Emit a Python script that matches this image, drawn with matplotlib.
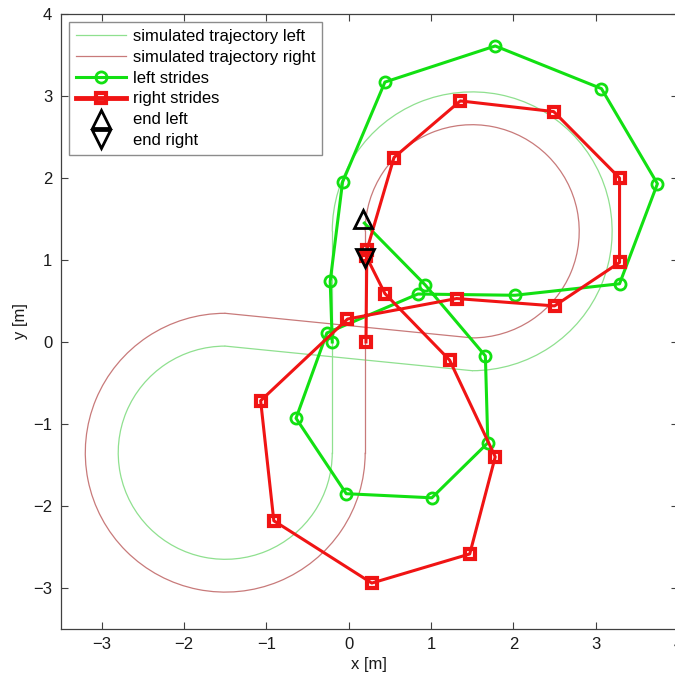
import matplotlib
matplotlib.use("Agg")
import matplotlib.pyplot as plt
from matplotlib.patches import Arc
from matplotlib.lines import Line2D

plt.rcParams['font.family'] = ['Liberation Sans', 'DejaVu Sans']

# ---- data ----
# simulated trajectory geometry (loop centres, radii) for left / right foot
upper_center = (1.5, 1.35)
lower_center = (-1.5, -1.35)
left_upper_radius = 1.7
left_lower_radius = 1.3
right_upper_radius = 1.3
right_lower_radius = 1.7
left_straight_x = -0.2
right_straight_x = 0.2
left_cross_x = [1.5, -1.5]
left_cross_y = [-0.35, -0.05]
right_cross_x = [1.5, -1.5]
right_cross_y = [0.05, 0.35]

# measured strides
left_x = [-0.20, -0.225, -0.075, 0.44, 1.78, 3.07, 3.75, 3.29, 2.02, 0.84,
          -0.265, -0.64, -0.03, 1.01, 1.69, 1.66, 0.93, 0.19]
left_y = [0.00, 0.74, 1.95, 3.17, 3.61, 3.09, 1.93, 0.71, 0.57, 0.585,
          0.11, -0.93, -1.85, -1.90, -1.23, -0.17, 0.695, 1.45]
right_x = [0.21, 0.22, 0.55, 1.355, 2.49, 3.29, 3.29, 2.50, 1.31, -0.015,
           -1.07, -0.91, 0.28, 1.47, 1.78, 1.225, 0.44, 0.21]
right_y = [0.00, 1.12, 2.25, 2.94, 2.81, 2.00, 0.97, 0.44, 0.53, 0.28,
           -0.716, -2.18, -2.94, -2.585, -1.40, -0.22, 0.59, 1.05]
end_left = (0.17, 1.50)
end_right = (0.20, 1.03)

x_ticks = [-3, -2, -1, 0, 1, 2, 3, 4]
y_ticks = [-3, -2, -1, 0, 1, 2, 3, 4]
x_lim = (-3.5, 4)
y_lim = (-3.5, 4)

legend_labels = ['simulated trajectory left', 'simulated trajectory right',
                 'left strides', 'right strides', 'end left', 'end right']

# ---- styling ----
c_sim_left = '#8fe08f'
c_sim_right = '#c87a7a'
c_left = '#12e012'
c_right = '#f01414'
lw_sim = 0.9

fig = plt.figure(figsize=(6.75, 6.76), dpi=100)
ax = fig.add_axes([60.6 / 675, 47 / 676, 617.4 / 675, 615 / 676])

# simulated trajectory left
ax.plot([left_straight_x, left_straight_x], [lower_center[1], upper_center[1]],
        color=c_sim_left, lw=lw_sim)
ax.add_patch(Arc(upper_center, 2 * left_upper_radius, 2 * left_upper_radius,
                 theta1=-90, theta2=180, color=c_sim_left, lw=lw_sim))
ax.plot(left_cross_x, left_cross_y, color=c_sim_left, lw=lw_sim)
ax.add_patch(Arc(lower_center, 2 * left_lower_radius, 2 * left_lower_radius,
                 theta1=90, theta2=360, color=c_sim_left, lw=lw_sim))

# simulated trajectory right
ax.plot([right_straight_x, right_straight_x], [lower_center[1], upper_center[1]],
        color=c_sim_right, lw=lw_sim)
ax.add_patch(Arc(upper_center, 2 * right_upper_radius, 2 * right_upper_radius,
                 theta1=-90, theta2=180, color=c_sim_right, lw=lw_sim))
ax.plot(right_cross_x, right_cross_y, color=c_sim_right, lw=lw_sim)
ax.add_patch(Arc(lower_center, 2 * right_lower_radius, 2 * right_lower_radius,
                 theta1=90, theta2=360, color=c_sim_right, lw=lw_sim))

# strides
ax.plot(left_x, left_y, color=c_left, lw=2.2, marker='o', ms=8, mew=2,
        mfc='none', mec=c_left, markevery=list(range(len(left_x) - 1)))
ax.plot(right_x, right_y, color=c_right, lw=2.2, marker='s', ms=6.5, mew=3,
        mfc='none', mec=c_right)
ax.plot([end_left[0]], [end_left[1]], ls='none', marker='^', ms=13, mew=2,
        mfc='none', mec='black')
ax.plot([end_right[0]], [end_right[1]], ls='none', marker='v', ms=13, mew=2,
        mfc='none', mec='black')

ax.set_xlim(*x_lim)
ax.set_ylim(*y_lim)
ax.set_xticks(x_ticks)
ax.set_yticks(y_ticks)
ax.tick_params(direction='in', top=True, right=True, length=5, width=0.8,
               color='#404040', labelsize=12, labelcolor='#1a1a1a', pad=6)
for s in ax.spines.values():
    s.set_color('#404040')
    s.set_linewidth(0.9)
ax.set_xlabel('x [m]', fontsize=12, color='#1a1a1a', labelpad=3)
ax.set_ylabel('y [m]', fontsize=12, color='#1a1a1a', labelpad=4)

handles = [
    Line2D([], [], color=c_sim_left, lw=lw_sim),
    Line2D([], [], color=c_sim_right, lw=lw_sim),
    Line2D([], [], color=c_left, lw=2.2, marker='o', ms=8, mew=2, mfc='none'),
    Line2D([], [], color=c_right, lw=3.5, marker='s', ms=6.5, mew=3, mfc='none'),
    Line2D([], [], ls='none', marker='^', ms=13, mew=2, mfc='none', mec='black'),
    Line2D([], [], ls='none', marker='v', ms=13, mew=2, mfc='none', mec='black'),
]
leg = ax.legend(handles, legend_labels, loc='upper left', fontsize=12,
                frameon=True, fancybox=False, edgecolor='#707070',
                handlelength=3.0, handletextpad=0.45, labelspacing=0.35,
                borderpad=0.4, borderaxespad=0.5)
leg.get_frame().set_linewidth(1.0)

fig.savefig('out.png', dpi=100)
